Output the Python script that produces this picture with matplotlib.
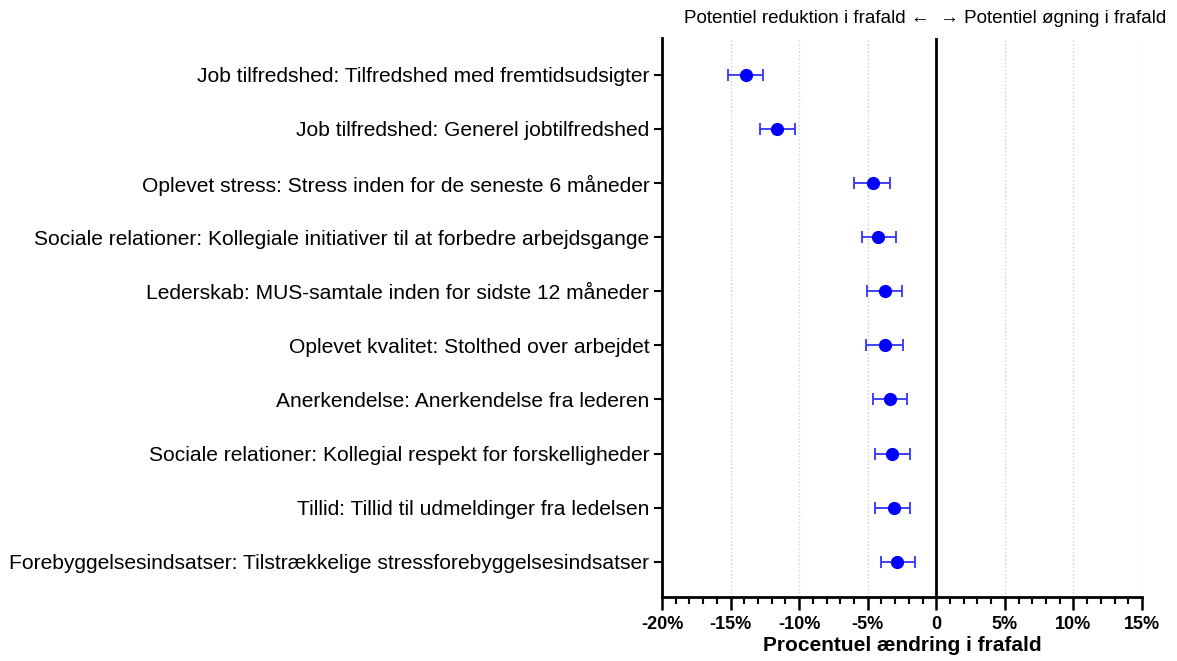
import numpy as np
import matplotlib.pyplot as plt
from matplotlib.ticker import MultipleLocator, FixedLocator

plt.rcParams['font.family'] = ['Liberation Sans', 'DejaVu Sans']

# data (percent change)
labels = [
    "Job tilfredshed: Tilfredshed med fremtidsudsigter",
    "Job tilfredshed: Generel jobtilfredshed",
    "Oplevet stress: Stress inden for de seneste 6 måneder",
    "Sociale relationer: Kollegiale initiativer til at forbedre arbejdsgange",
    "Lederskab: MUS-samtale inden for sidste 12 måneder",
    "Oplevet kvalitet: Stolthed over arbejdet",
    "Anerkendelse: Anerkendelse fra lederen",
    "Sociale relationer: Kollegial respekt for forskelligheder",
    "Tillid: Tillid til udmeldinger fra ledelsen",
    "Forebyggelsesindsatser: Tilstrækkelige stressforebyggelsesindsatser",
]
estimate = [-13.9, -11.6, -4.65, -4.25, -3.75, -3.75, -3.35, -3.2, -3.1, -2.85]
ci_low = [-15.2, -12.85, -6.0, -5.45, -5.05, -5.1, -4.65, -4.45, -4.45, -4.05]
ci_high = [-12.65, -10.3, -3.35, -2.95, -2.5, -2.4, -2.1, -1.95, -1.9, -1.55]

xticks = [-20, -15, -10, -5, 0, 5, 10, 15]
xticklabels = ["-20%", "-15%", "-10%", "-5%", "0", "5%", "10%", "15%"]

est = np.array(estimate)
err = np.vstack([est - np.array(ci_low), np.array(ci_high) - est])
ypos = np.arange(len(labels))

fig = plt.figure(figsize=(11.77, 6.61), dpi=100)
ax = fig.add_axes([0.5624, 0.0968, 0.4079, 0.8457])

ax.errorbar(est, ypos, xerr=err, fmt='o', color='#0000ff', ecolor='#3333ff',
            markersize=8.5, elinewidth=1.3, capsize=4.5, capthick=1.3, zorder=3)
ax.axvline(0, color='black', lw=2, zorder=2)

ax.set_xlim(-20, 15)
ax.set_ylim(len(labels) - 1 + 0.65, -0.68)
ax.xaxis.set_major_locator(FixedLocator(xticks))
ax.set_xticklabels(xticklabels, fontsize=13, fontweight='bold')
ax.xaxis.set_minor_locator(MultipleLocator(1))
ax.tick_params(axis='x', which='major', length=9, width=1.8, pad=5)
ax.tick_params(axis='x', which='minor', length=5, width=1.5)
ax.set_yticks(ypos)
ax.set_yticklabels(labels, fontsize=15.1)
ax.tick_params(axis='y', length=6, width=1.5, pad=3)

ax.grid(axis='x', which='major', color='#cfcfcf', linestyle=':', lw=1)
ax.set_axisbelow(True)
for s in ['top', 'right']:
    ax.spines[s].set_visible(False)
for s in ['left', 'bottom']:
    ax.spines[s].set_linewidth(2)

ax.set_xlabel("Procentuel ændring i frafald", fontsize=15, fontweight='bold', labelpad=2)
fig.text(0.786, 0.972, "Potentiel reduktion i frafald \u2190  \u2192 Potentiel øgning i frafald",
         ha='center', va='center', fontsize=13.5)

fig.savefig("out.png", dpi=100)
